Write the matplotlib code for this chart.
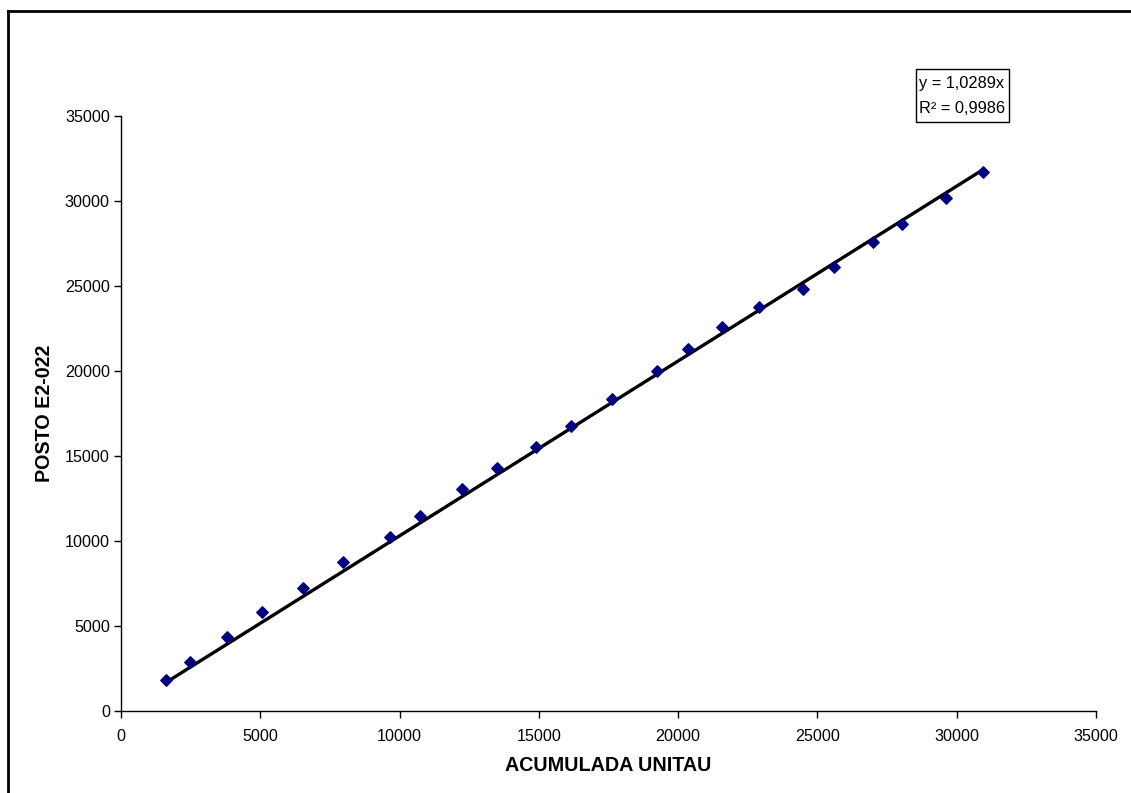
import matplotlib.pyplot as plt
from matplotlib.patches import Rectangle
from matplotlib.lines import Line2D

plt.rcParams['font.family'] = ['Liberation Sans', 'DejaVu Sans']

# valores
acumulada_unitau = [1615, 2487, 3805, 5061, 6533, 7968, 9644, 10721, 12229, 13496,
                    14896, 16141, 17624, 19228, 20341, 21584, 22900, 24468, 25604,
                    26981, 28022, 29612, 30940]
posto_e2_022 = [1806, 2847, 4353, 5788, 7200, 8765, 10235, 11471, 13059, 14259,
                15529, 16765, 18318, 20000, 21259, 22553, 23765, 24824, 26082,
                27571, 28647, 30176, 31688]
slope = 1.0289
r2 = 0.9986
ticks = [0, 5000, 10000, 15000, 20000, 25000, 30000, 35000]

fig = plt.figure(figsize=(11.31, 7.93), dpi=100)
ax = fig.add_axes([0.107, 0.1038, 0.862, 0.750])

# linha de tendência
x_line = [min(acumulada_unitau), max(acumulada_unitau)]
ax.plot(x_line, [slope * v for v in x_line], color='black', lw=2.4, zorder=2)
ax.scatter(acumulada_unitau, posto_e2_022, marker='D', s=34, color='#000080', zorder=3)

ax.set_xlim(0, 35000)
ax.set_ylim(0, 35000)
ax.set_xticks(ticks)
ax.set_yticks(ticks)
ax.tick_params(direction='out', length=5, width=1, labelsize=11.6, color='black')
ax.tick_params(axis='x', pad=8)
ax.tick_params(axis='y', pad=3)
ax.spines['top'].set_visible(False)
ax.spines['right'].set_visible(False)
for s in ['left', 'bottom']:
    ax.spines[s].set_linewidth(1)

ax.set_xlabel('ACUMULADA UNITAU', fontsize=14.2, fontweight='bold', labelpad=9)
ax.set_ylabel('POSTO E2-022', fontsize=14.2, fontweight='bold', labelpad=8)

# caixa da equação
fig.patches.append(Rectangle((0.8096, 0.8458), 0.0825, 0.0668, transform=fig.transFigure,
                             fill=False, ec='black', lw=1))
fig.text(0.8126, 0.8884, f'y = {slope:.4f}x'.replace('.', ','), fontsize=11.8,
         va='baseline', ha='left')
fig.text(0.8126, 0.8571, 'R²' + f' = {r2:.4f}'.replace('.', ','), fontsize=11.8,
         va='baseline', ha='left')

# moldura externa (só aparecem os lados de cima e da esquerda)
fig.lines.append(Line2D([0.0071, 1.0], [0.9861, 0.9861], transform=fig.transFigure,
                        color='black', lw=2))
fig.lines.append(Line2D([0.0071, 0.0071], [0.0, 0.9861], transform=fig.transFigure,
                        color='black', lw=2))

fig.savefig('out.png', dpi=100)
